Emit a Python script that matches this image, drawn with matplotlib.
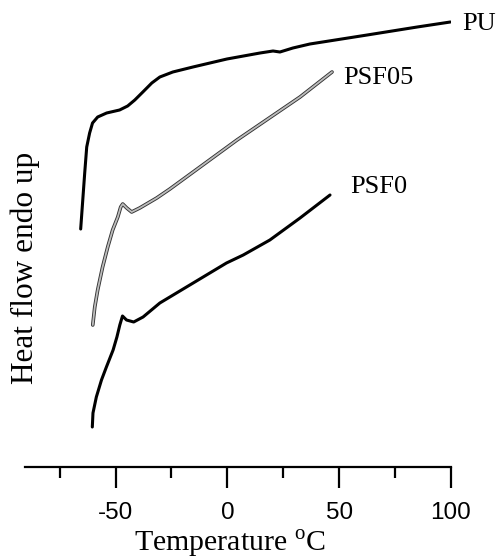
#!/usr/bin/env python3
"""
DSC heat flow curves for PU, PSF05 and PSF0 (endo up, arbitrary units).
"""

import matplotlib
matplotlib.use("Agg")
import matplotlib.pyplot as plt

# values (heat flow in arbitrary units)
pu_temp = [-65.6, -63.8, -62.9, -61.6, -60.3, -58.0, -54.0, -48.2, -44.6, -41.4,
           -37.8, -33.8, -30.2, -24.4, -15.4, -0.2, 14.6, 20.4, 23.5, 29.3,
           36.9, 62.5, 84.9, 99.7]
pu_flow = [23.8, 29.4, 32.0, 33.4, 34.4, 35.0, 35.4, 35.7, 36.1, 36.7,
           37.5, 38.4, 39.0, 39.5, 40.0, 40.8, 41.4, 41.6, 41.5, 41.9,
           42.3, 43.2, 44.0, 44.5]

psf05_temp = [-60.2, -59.3, -58.0, -55.8, -53.5, -51.3, -49.0, -47.7, -46.8, -45.0,
              -42.8, -39.2, -31.6, -25.7, 4.3, 32.5, 46.8]
psf05_flow = [14.2, 16.0, 17.7, 20.0, 22.0, 23.7, 25.0, 26.0, 26.3, 25.9,
              25.5, 25.9, 26.9, 27.8, 32.7, 37.0, 39.5]

psf0_temp = [-60.4, -60.1, -58.6, -56.3, -54.1, -51.1, -49.4, -48.1, -46.9, -45.1,
             -41.9, -37.7, -30.2, -15.3, -0.4, 7.1, 19.0, 32.5, 45.9]
psf0_flow = [4.0, 5.4, 7.0, 8.7, 10.0, 11.7, 13.0, 14.2, 15.1, 14.7,
             14.5, 15.0, 16.4, 18.4, 20.4, 21.2, 22.7, 24.9, 27.2]

major_ticks = [-50, 0, 50, 100]
minor_ticks = [-75, -25, 25, 75]

plt.rcParams['mathtext.fontset'] = 'custom'
plt.rcParams['mathtext.rm'] = 'Liberation Serif'
plt.rcParams['axes.unicode_minus'] = False

W, H = 496, 559
fig = plt.figure(figsize=(W / 100, H / 100), dpi=100)
ax = fig.add_axes([25 / W, (H - 467) / H, (451 - 25) / W, 467 / H])

ax.plot(pu_temp, pu_flow, color='black', lw=2.2, solid_capstyle='round')
# PSF05 is drawn as a grey trace with dark edges
ax.plot(psf05_temp, psf05_flow, color='#333333', lw=2.6, solid_capstyle='round')
ax.plot(psf05_temp, psf05_flow, color='#bdbdbd', lw=1.3, solid_capstyle='round')
ax.plot(psf0_temp, psf0_flow, color='black', lw=2.2, solid_capstyle='round')

serif = dict(family='Liberation Serif', fontsize=19)
ax.text(105, 44.3, 'PU', ha='left', va='center', clip_on=False, **serif)
ax.text(51.7, 38.9, 'PSF05', ha='left', va='center', **serif)
ax.text(54.9, 28.0, 'PSF0', ha='left', va='center', **serif)

ax.set_xlim(-90.5, 100)
ax.set_ylim(0, 46.7)

for side in ('top', 'right', 'left'):
    ax.spines[side].set_visible(False)
ax.spines['bottom'].set_linewidth(1.6)
ax.set_yticks([])

ax.set_xticks(major_ticks)
ax.set_xticks(minor_ticks, minor=True)
ax.tick_params(axis='x', which='major', direction='out', length=15, width=1.6, pad=10)
ax.tick_params(axis='x', which='minor', direction='out', length=8, width=1.6)
for lab in ax.get_xticklabels():
    lab.set_family('Liberation Sans')
    lab.set_fontsize(17.5)

fig.text(230 / W, 1 - 544 / H, r'Temperature $^{\rm o}$C', ha='center', va='center',
         family='Liberation Serif', fontsize=21.5)
fig.text(25 / W, 1 - 268 / H, 'Heat flow endo up', ha='center', va='center',
         rotation=90, family='Liberation Serif', fontsize=22.5)

fig.savefig('out.png', dpi=100)
